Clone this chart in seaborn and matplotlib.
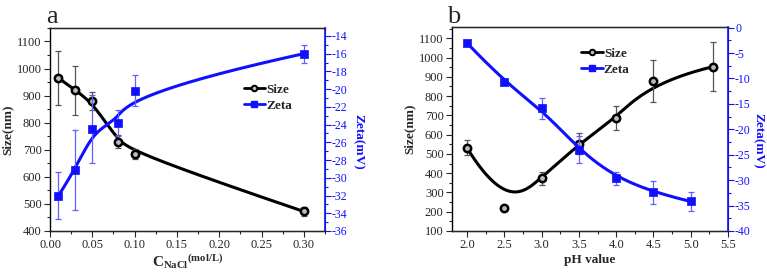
import numpy as np
import matplotlib
matplotlib.use('Agg')
import matplotlib.pyplot as plt
import seaborn as sns
from matplotlib.lines import Line2D
from matplotlib.ticker import MultipleLocator, AutoMinorLocator, FormatStrFormatter

# panel a: NaCl concentration
nacl = [0.01, 0.03, 0.05, 0.08, 0.10, 0.30]
size_a = [965, 920, 880, 730, 685, 472]
size_a_err = [100, 90, 32, 25, 18, 18]
zeta_a = [-32.0, -29.1, -24.5, -23.8, -20.2, -16.0]
zeta_a_err = [2.6, 4.5, 3.8, 1.5, 1.75, 1.0]

# panel b: pH
ph_size = [2.0, 2.5, 3.0, 3.5, 4.0, 4.5, 5.3]
size_b = [532, 218, 373, 553, 685, 878, 953]
size_b_err = [40, 5, 35, 55, 62, 110, 127]
ph_zeta = [2.0, 2.5, 3.0, 3.5, 4.0, 4.5, 5.0]
zeta_b = [-3.0, -10.7, -15.9, -24.0, -29.6, -32.4, -34.2]
zeta_b_err = [0.5, 0.6, 2.0, 2.6, 1.3, 2.2, 1.8]

BLUE = '#1010ff'

sns.set_style('ticks')
plt.rcParams['font.family'] = ['Liberation Serif', 'DejaVu Serif']
plt.rcParams['axes.unicode_minus'] = False
plt.rcParams['mathtext.fontset'] = 'custom'
plt.rcParams['mathtext.rm'] = 'Liberation Serif:bold'
plt.rcParams['mathtext.bf'] = 'Liberation Serif:bold'
plt.rcParams['mathtext.it'] = 'Liberation Serif:bold'


#clamped cubic B-spline with the data points as control points
def bspline(xs, ys, num=300):
    P = np.column_stack([xs, ys]).astype(float)
    n = len(P)
    k = 3
    knots = np.concatenate([[0] * k, np.arange(n - k + 1), [n - k] * k]).astype(float)
    t = np.linspace(0, n - k, num)
    tmax = n - k

    def N(i, d):
        if d == 0:
            lo, hi = knots[i], knots[i + 1]
            res = ((t >= lo) & (t < hi)).astype(float)
            if hi == tmax and lo < hi:
                res[t == tmax] = 1.0
            return res
        out = np.zeros_like(t)
        den1 = knots[i + d] - knots[i]
        if den1 > 0:
            out += (t - knots[i]) / den1 * N(i, d - 1)
        den2 = knots[i + d + 1] - knots[i + 1]
        if den2 > 0:
            out += (knots[i + d + 1] - t) / den2 * N(i + 1, d - 1)
        return out

    B = np.array([N(i, k) for i in range(n)])
    curve = B.T @ P
    return curve[:, 0], curve[:, 1]


def style_axes(ax, ax2):
    for s in ['left', 'bottom', 'top']:
        ax.spines[s].set_linewidth(1.0)
        ax.spines[s].set_color('black')
    ax2.spines['right'].set_color(BLUE)
    ax2.spines['right'].set_linewidth(1.2)
    ax2.spines['left'].set_visible(False)
    ax.tick_params(axis='both', which='major', direction='out', length=4, width=0.8, labelsize=9, pad=2)
    ax.tick_params(axis='both', which='minor', direction='out', length=2, width=0.8)
    ax2.tick_params(axis='y', which='major', direction='out', length=4, width=0.8, labelsize=8.5,
                    colors=BLUE, pad=1)
    ax2.tick_params(axis='y', which='minor', direction='out', length=2, width=0.8, colors=BLUE)
    ax.xaxis.set_minor_locator(AutoMinorLocator(2))
    ax.yaxis.set_minor_locator(AutoMinorLocator(2))
    ax2.yaxis.set_minor_locator(AutoMinorLocator(2))


def draw_panel(ax, xs, sz, sz_err, xz, zt, zt_err):
    ax2 = ax.twinx()
    bx, by = bspline(xs, sz)
    sns.lineplot(x=bx, y=by, ax=ax, color='black', lw=2.2, sort=False, estimator=None)
    ax.errorbar(xs, sz, yerr=sz_err, fmt='none', ecolor='#555555', elinewidth=0.9, capsize=2.5, capthick=0.9)
    sns.scatterplot(x=xs, y=sz, ax=ax, marker='o', s=28, color='#bbbbbb', edgecolor='black', linewidth=1.8, zorder=5)
    zx, zy = bspline(xz, zt)
    sns.lineplot(x=zx, y=zy, ax=ax2, color=BLUE, lw=2.2, sort=False, estimator=None)
    ax2.errorbar(xz, zt, yerr=zt_err, fmt='none', ecolor='#6060ff', elinewidth=0.9, capsize=2.5, capthick=0.9)
    sns.scatterplot(x=xz, y=zt, ax=ax2, marker='s', s=30, color=BLUE, edgecolor=BLUE, linewidth=0.5, zorder=5)
    ax.set_ylabel('Size(nm)', fontsize=9.5, fontweight='bold', labelpad=2)
    ax2.set_ylabel('Zeta(mV)', fontsize=9.5, fontweight='bold', color=BLUE, rotation=270)
    handles = [Line2D([], [], color='black', lw=2, marker='o', ms=4, mfc='#bbbbbb', mec='black', mew=1.4),
               Line2D([], [], color=BLUE, lw=2, marker='s', ms=4, mfc=BLUE, mec=BLUE)]
    return ax2, handles


fig = plt.figure(figsize=(7.67, 2.74), dpi=100)
axa = fig.add_axes([0.0652, 0.157, 0.3585, 0.741])
axb = fig.add_axes([0.5893, 0.157, 0.360, 0.744])

# panel a
axa2, h = draw_panel(axa, nacl, size_a, size_a_err, nacl, zeta_a, zeta_a_err)
axa.set_xlim(0, 0.325)
axa.set_ylim(400, 1150)
axa2.set_ylim(-36, -13.1)
axa.xaxis.set_major_locator(MultipleLocator(0.05))
axa.yaxis.set_major_locator(MultipleLocator(100))
axa2.yaxis.set_major_locator(MultipleLocator(2))
axa.xaxis.set_major_formatter(FormatStrFormatter('%.2f'))
axa.set_xlabel(r'$\mathbf{C_{NaCl}{}^{(mol/L)}}$', fontsize=11, labelpad=1)
style_axes(axa, axa2)
axa2.yaxis.set_label_coords(1.142, 0.44)
axa2.legend(h, ['Size', 'Zeta'], loc='upper left', bbox_to_anchor=(0.675, 0.765), frameon=False,
            prop={'weight': 'bold', 'size': 9.5}, handlelength=1.6, handletextpad=0.1,
            labelspacing=0.3, borderpad=0.1)
fig.text(0.0652 - 0.005, 0.915, 'a', fontsize=19)

# panel b
axb2, h = draw_panel(axb, ph_size, size_b, size_b_err, ph_zeta, zeta_b, zeta_b_err)
axb.set_xlim(1.8, 5.5)
axb.set_ylim(100, 1158)
axb2.set_ylim(-40, 0.1)
axb.xaxis.set_major_locator(MultipleLocator(0.5))
axb.yaxis.set_major_locator(MultipleLocator(100))
axb2.yaxis.set_major_locator(MultipleLocator(5))
axb.xaxis.set_major_formatter(FormatStrFormatter('%.1f'))
axb.set_xlabel('pH value', fontsize=9.5, fontweight='bold', labelpad=2)
style_axes(axb, axb2)
axb2.yaxis.set_label_coords(1.132, 0.44)
axb2.legend(h, ['Size', 'Zeta'], loc='upper left', bbox_to_anchor=(0.44, 0.94), frameon=False,
            prop={'weight': 'bold', 'size': 9.5}, handlelength=1.6, handletextpad=0.1,
            labelspacing=0.3, borderpad=0.1)
fig.text(0.5893 - 0.006, 0.915, 'b', fontsize=19)

plt.savefig('out.png', dpi=100)
plt.close()
